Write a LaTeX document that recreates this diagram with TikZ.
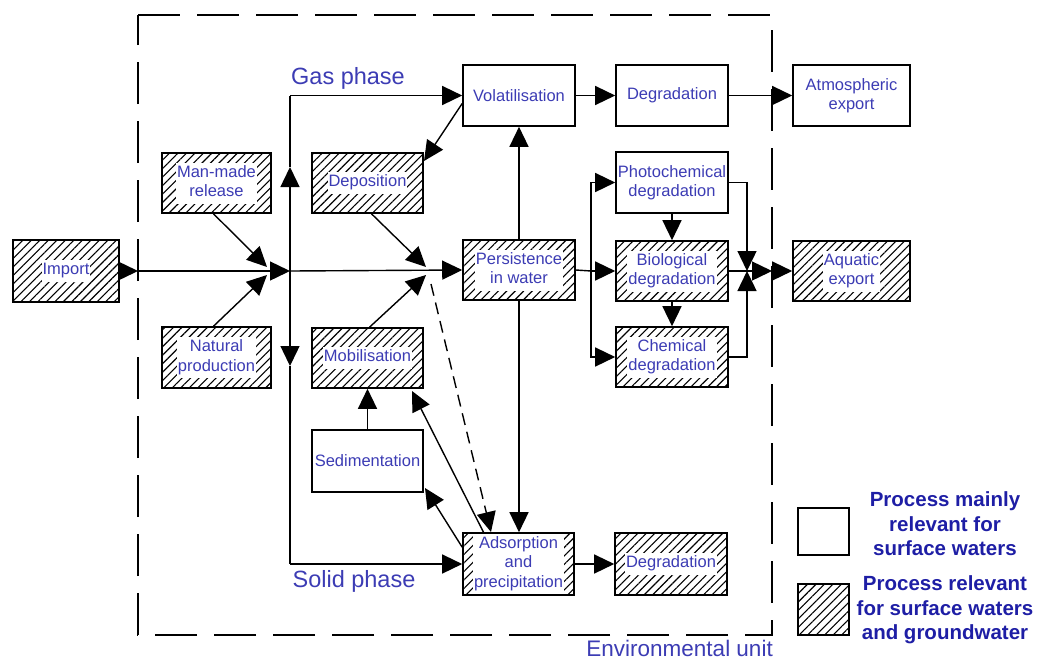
\documentclass[tikz,border=0pt]{standalone}
\usepackage{fontspec}
\setmainfont{Liberation Sans}
\usetikzlibrary{arrows.meta,patterns.meta}
\definecolor{lblue}{RGB}{60,60,180}
\definecolor{dblue}{RGB}{30,30,165}
\newcommand\boxfont{\fontsize{16.5}{19.5}\selectfont}
\newcommand\phasefont{\fontsize{23.5}{26}\selectfont}
\newcommand\legfont{\fontsize{20.5}{24.5}\selectfont\bfseries}
\newcommand\wb[1]{{\setlength{\fboxsep}{1pt}\renewcommand\arraystretch{1}\colorbox{white}{\begin{tabular}{@{}c@{}}#1\end{tabular}}}}
\tikzset{
  box/.style={draw, line width=1.6pt, minimum width=112pt, minimum height=61pt, inner sep=0pt,
    font=\boxfont, text=lblue, align=center},
  hbox/.style={box, pattern={Lines[angle=45,distance=6pt,line width=1.1pt]}},
  ln/.style={line width=1.4pt},
  arr/.style={line width=1.4pt, -{Triangle[length=20pt,width=19pt]}},
  phase/.style={font=\phasefont, text=lblue, inner sep=0pt},
}
\begin{document}
\begin{tikzpicture}[x=1pt,y=-1pt]
\useasboundingbox (0,0) rectangle (1041,662);
% environmental unit boundary
\draw[line width=2.5pt, dash pattern=on 42pt off 17pt] (138,15) -- (772,15) -- (772,635) -- (138,635) -- cycle;

% boxes
\node[hbox, minimum width=106pt, minimum height=62pt] (imp) at (66,271) {\wb{Import}};
\node[hbox, minimum width=109pt, minimum height=60pt] (man) at (216.5,183) {\wb{Man-made\\release}};
\node[hbox, minimum width=109pt, minimum height=61pt] (nat) at (216.5,357.5) {\wb{Natural\\production}};
\node[hbox, minimum width=111pt, minimum height=60pt] (dep) at (367.5,183) {\wb{Deposition}};
\node[hbox, minimum width=111pt, minimum height=60pt] (mob) at (367.5,358) {\wb{Mobilisation}};
\node[box, minimum width=111pt, minimum height=62pt] (sed) at (367.5,461) {Sedimentation};
\node[box] (vol) at (519,95.5) {Volatilisation};
\node[hbox, minimum height=60pt] (per) at (519,270) {\wb{Persistence\\in water}};
\node[hbox, minimum width=111pt, minimum height=62pt] (ads) at (518.5,564) {\wb{Adsorption\\and\\precipitation}};
\node[box] (deg1) at (672,95.5) {Degradation};
\node[box] (pho) at (672,182.5) {Photochemical\\degradation};
\node[hbox, minimum height=60pt] (bio) at (672,271) {\wb{Biological\\degradation}};
\node[hbox, minimum height=60pt] (che) at (672,357) {\wb{Chemical\\degradation}};
\node[hbox, minimum height=62pt] (deg2) at (671,564) {\wb{Degradation}};
\node[box, minimum width=117pt] (atm) at (851.5,95.5) {Atmospheric\\export};
\node[hbox, minimum width=117pt, minimum height=60pt] (aqu) at (851.5,271) {\wb{Aquatic\\export}};

% phase labels
\node[phase] (gas) at (348,78) {Gas phase};
\node[phase] (sol) at (354,581) {Solid phase};
\node[phase, anchor=east, font=\fontsize{22.5}{26}\selectfont] (env) at (773,648) {Environmental unit};

% coordinates
\coordinate (b1) at (138,271);
\coordinate (j1) at (268,271);
\coordinate (j1a) at (267,267);
\coordinate (j1b) at (267,275);
\coordinate (v) at (290,271);
\coordinate (vt) at (290,95.5);
\coordinate (vb) at (290,564);
\coordinate (vu) at (290,167);
\coordinate (vd) at (290,366);
\coordinate (j2a) at (426,267);
\coordinate (j2b) at (426,275);
\coordinate (dstart) at (431,284);
\coordinate (dend) at (491,532);
\coordinate (dtip) at (424,161);
\coordinate (mtip) at (412,391);
\coordinate (stip) at (425,488);
\coordinate (r1) at (591,271);
\coordinate (r2) at (747,271);
\coordinate (b2) at (772,271);

% connectors
\draw[arr] (imp.east) -- (b1);
\draw[ln] (b1) -- (j1);
\draw[arr] ([xshift=-3pt]man.south) -- (j1a);
\draw[arr] ([xshift=-3pt]nat.north) -- (j1b);
\draw[arr] (j1) -- (v);
\draw[arr] (v) -- (vu);
\draw[ln] (vu) -- (vt);
\draw[arr] (vt) -- (vol.west);
\draw[arr] (v) -- (vd);
\draw[ln] (vd) -- (vb);
\draw[arr] (vb) -- (ads.west);
\draw[arr] (v) -- (per.west);
\draw[arr] ([xshift=4pt]dep.south) -- (j2a);
\draw[arr] ([xshift=2pt]mob.north) -- (j2b);
\draw[arr] ([yshift=-8pt]vol.west) -- (dtip);
\draw[arr] (per.north) -- (vol.south);
\draw[arr] (per.south) -- (per.south |- ads.north);
\draw[arr, dash pattern=on 12pt off 7pt] (dstart) -- (dend);
\draw[arr] ([xshift=-35pt]ads.north) -- (mtip);
\draw[arr] ([yshift=-15pt]ads.north west) -- (stip);
\draw[arr] (sed.north) -- (mob.south);
\draw[arr] (ads.east) -- (deg2.west);
\draw[arr] (vol.east) -- (deg1.west);
\draw[arr] (deg1.east) -- (atm.west);
\draw[ln] (per.east) -- (r1);
\draw[arr] (r1) -- (bio.west);
\draw[arr] (r1) |- (pho.west);
\draw[arr] (r1) |- (che.west);
\draw[arr] (pho.south) -- (bio.north);
\draw[arr] (bio.south) -- (che.north);
\draw[arr] (pho.east) -| (r2);
\draw[arr] (che.east) -| (r2);
\draw[arr] (bio.east) -- (b2);
\draw[arr] (b2) -- (aqu.west);

% legend
\node[draw, line width=1.6pt, minimum width=51pt, minimum height=47pt, inner sep=0pt] (leg1) at (823.5,531.5) {};
\node[draw, line width=1.6pt, minimum width=51pt, minimum height=51pt, inner sep=0pt,
  pattern={Lines[angle=45,distance=6pt,line width=1.1pt]}] (leg2) at (823.5,609.5) {};
\node[font=\legfont, text=dblue, align=center, inner sep=0pt] (lt1) at (945,524) {Process mainly\\relevant for\\surface waters};
\node[font=\legfont, text=dblue, align=center, inner sep=0pt] (lt2) at (945,610) {Process relevant\\for surface waters\\and groundwater};
\end{tikzpicture}
\end{document}
